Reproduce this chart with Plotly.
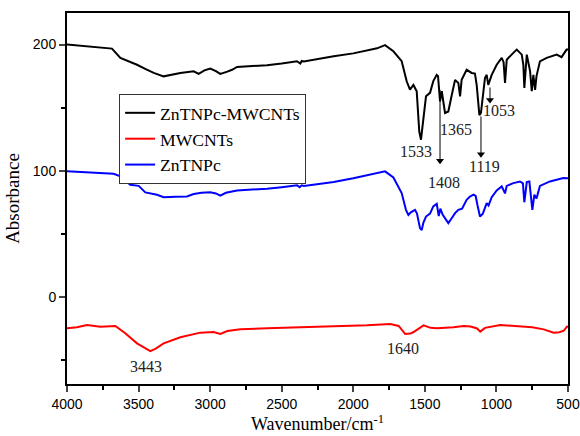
import plotly.graph_objects as go

# ---------------- data ----------------
wn_black = [4000, 3850, 3686, 3627, 3560, 3511, 3450, 3394, 3325, 3260, 3208, 3115, 3080, 3040, 2999,
            2960, 2929, 2880, 2847, 2812, 2700, 2603, 2500, 2393, 2370, 2360, 2345, 2250, 2137, 2000,
            1883, 1834, 1778, 1720, 1662, 1627, 1604, 1580, 1557, 1539, 1527, 1511, 1492, 1464, 1441,
            1417, 1408, 1394, 1382, 1359, 1336, 1312, 1289, 1266, 1254, 1243, 1208, 1173, 1150, 1138,
            1119, 1108, 1080, 1068, 1057, 1033, 998, 963, 950, 940, 928, 882, 858, 823, 812, 805,
            797, 788, 765, 753, 742, 730, 720, 696, 649, 600, 579, 545, 510, 500]
abs_black = [200, 198.5, 196.8, 189.4, 186.5, 184, 180.5, 177.5, 174.8, 176.5, 177.5, 178.8, 176.7, 179.5, 181,
             179, 176.7, 178.5, 180, 182.3, 183, 183.6, 185, 186.8, 185, 187, 186.5, 188.5, 190.7, 193,
             196, 197, 199.5, 194.7, 186.8, 170.9, 164.3, 168, 163, 131, 124.6, 142, 159, 161.7, 171,
             176, 175, 155, 163, 145.8, 147, 160, 172, 169.6, 159, 172, 180, 177.5, 177, 168,
             144, 146, 173.5, 176, 168, 176, 184, 189.4, 186, 169.6, 188, 193.4, 196, 192, 184, 165.6,
             182, 192, 179, 163, 176, 164, 175, 186.7, 189.4, 191, 192, 190, 196, 196]

wn_red = [4000, 3930, 3860, 3767, 3662, 3593, 3511, 3460, 3418, 3380, 3325, 3208, 3069, 2976, 2929,
          2880, 2789, 2600, 2370, 2100, 1904, 1741, 1683, 1637, 1600, 1579, 1509, 1460, 1415, 1300,
          1229, 1180, 1135, 1113, 1080, 973, 833, 750, 670, 600, 560, 530, 507, 500]
abs_red = [-24.9, -24, -22.2, -23.6, -23, -28.8, -36.8, -40.5, -42.9, -41, -36.8, -32, -28.3, -27.8, -29.4,
           -27, -25.7, -24.8, -24.1, -23.3, -22.5, -21.4, -23, -29.4, -29, -27.8, -22.5, -24.5, -24.9, -24,
           -23, -23.5, -25, -27.5, -24.5, -22.2, -23, -24, -25.7, -28.3, -28, -26.8, -23.5, -24]

wn_blue = [4000, 3850, 3674, 3627, 3558, 3499, 3453, 3371, 3325, 3240, 3162, 3115, 3060, 2999, 2960,
           2929, 2890, 2812, 2700, 2603, 2500, 2393, 2375, 2360, 2345, 2250, 2137, 2000, 1883, 1834,
           1778, 1720, 1662, 1632, 1615, 1598, 1569, 1555, 1534, 1522, 1510, 1492, 1464, 1441, 1417,
           1403, 1392, 1375, 1336, 1315, 1289, 1266, 1240, 1208, 1185, 1160, 1145, 1133, 1115, 1095,
           1068, 1055, 1033, 998, 963, 940, 928, 882, 835, 815, 805, 788, 770, 749, 735, 720, 696, 626, 533, 500]
abs_blue = [99.5, 98.5, 97.6, 95.5, 88.9, 88, 82.8, 81, 79, 79.3, 79.6, 81.5, 82.5, 83, 82,
            80.2, 82.5, 84.4, 85, 85.8, 87, 88.5, 87, 88.5, 88, 89.5, 91, 94, 96.8, 97.6,
            99.5, 94.7, 82.3, 69, 65, 67, 69, 66, 54.5, 53, 59, 63.7, 66, 71.7, 73.8,
            64, 70, 65, 58.5, 62, 66.4, 69, 70, 77, 79.6, 81, 80, 73, 63.7, 66,
            74.3, 72.5, 79, 84.4, 87.6, 82, 88, 90.2, 91.5, 90, 75, 91, 91.5, 69, 81, 78, 88, 91.5, 94.2, 94]

series_names = ["ZnTNPc-MWCNTs", "MWCNTs", "ZnTNPc"]

# peak labels: text, x (wavenumber), y (absorbance)
peak_text = ["1533", "1408", "1365", "1119", "1053", "3443", "1640"]
peak_x = [1562, 1366, 1279, 1080, 982, 3445, 1653]
peak_y = [115, 91, 133, 103, 148, -55, -41]

# arrows: wavenumber, tail y, head y
arrow_x = [1394, 1108, 1045]
arrow_y0 = [164, 143, 166]
arrow_y1 = [108, 113, 156]

x_ticks = [4000, 3500, 3000, 2500, 2000, 1500, 1000, 500]
y_ticks = [0, 100, 200]

# ---------------- figure ----------------
serif = "Liberation Serif, Times New Roman, serif"
sans = "Liberation Sans, Arial, sans-serif"

fig = go.Figure()
fig.add_trace(go.Scatter(x=wn_black, y=abs_black, mode="lines", name=series_names[0],
                         line=dict(color="black", width=2)))
fig.add_trace(go.Scatter(x=wn_red, y=abs_red, mode="lines", name=series_names[1],
                         line=dict(color="#ff0000", width=2)))
fig.add_trace(go.Scatter(x=wn_blue, y=abs_blue, mode="lines", name=series_names[2],
                         line=dict(color="#0000ff", width=2)))

# arrow shafts and heads
for x, y0, y1 in zip(arrow_x, arrow_y0, arrow_y1):
    fig.add_trace(go.Scatter(x=[x, x], y=[y0, y1], mode="lines", showlegend=False,
                             hoverinfo="skip", line=dict(color="black", width=1)))
fig.add_trace(go.Scatter(x=arrow_x, y=arrow_y1, mode="markers", showlegend=False,
                         hoverinfo="skip",
                         marker=dict(symbol="triangle-down", size=7, color="black",
                                     line=dict(width=0))))

annotations = []
for t, x, y in zip(peak_text, peak_x, peak_y):
    annotations.append(dict(x=x, y=y, xref="x", yref="y", text=t, showarrow=False,
                            font=dict(family=serif, size=16, color="#222")))

fig.update_layout(
    width=580, height=436,
    margin=dict(l=67, r=12, t=13, b=52),
    paper_bgcolor="white", plot_bgcolor="white",
    showlegend=True,
    legend=dict(x=0.104, y=0.782, xanchor="left", yanchor="top",
                bordercolor="#333", borderwidth=1, bgcolor="white",
                font=dict(family=serif, size=17.6, color="black"),
                tracegroupgap=0, itemwidth=30),
    annotations=annotations,
    xaxis=dict(range=[4000, 500], tickvals=x_ticks, ticks="outside", ticklen=6, tickwidth=2,
               showline=True, linewidth=2, linecolor="black", mirror=True, showgrid=False,
               zeroline=False, automargin=False,
               tickfont=dict(family=sans, size=14, color="black"),
               minor=dict(dtick=250, ticks="outside", ticklen=4, tickwidth=2, tickcolor="black"),
               title=dict(text="Wavenumber/cm<sup>-1</sup>", standoff=4,
                          font=dict(family=serif, size=18, color="black"))),
    yaxis=dict(range=[-69, 225], tickvals=y_ticks, ticks="outside", ticklen=6, tickwidth=2,
               showline=True, linewidth=2, linecolor="black", mirror=True, showgrid=False,
               zeroline=False, automargin=False,
               tickfont=dict(family=sans, size=14, color="black"),
               minor=dict(dtick=50, ticks="outside", ticklen=4, tickwidth=2, tickcolor="black"),
               title=dict(text="Absorbance", standoff=8,
                          font=dict(family=serif, size=19, color="black"))),
)

fig.write_html("out.html", config={"displayModeBar": False},
               post_script="document.body.style.margin='0';document.body.style.padding='0';")
